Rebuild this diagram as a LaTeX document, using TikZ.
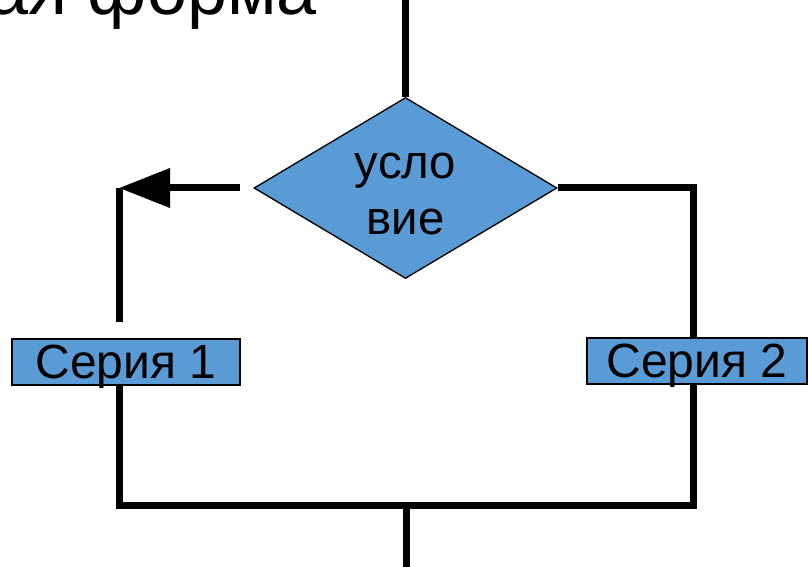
\documentclass[tikz,border=0pt]{standalone}
\usepackage{fontspec}
\setmainfont{Liberation Sans}
\usetikzlibrary{shapes.geometric,arrows.meta,calc}
\definecolor{boxblue}{RGB}{91,155,213}
\begin{document}
\begin{tikzpicture}[x=0.75pt,y=-0.75pt,
  conn/.style={line width=5.25pt},
  serbox/.style={draw=black, line width=1pt, fill=boxblue, inner sep=0pt, text depth=0pt, font=\fontsize{36}{43}\selectfont},
]
\useasboundingbox (0,0) rectangle (808,567);
\node[anchor=base east, inner sep=0pt, font=\fontsize{54}{60}\selectfont] (title) at (317,15) {ая форма};
\node[diamond, draw=black, line width=1pt, fill=boxblue, minimum width=227.25pt, minimum height=135.75pt, inner sep=0pt] (dia) at (405.5,188) {};
\node[align=center, inner sep=0pt, font=\fontsize{35.5}{42.5}\selectfont] (cond) at (405.5,194) {усло\\вие};
\node[serbox, minimum width=171pt, minimum height=34.5pt] (s1) at (126,362) {Серия 1};
\node[serbox, minimum width=165pt, minimum height=34.5pt] (s2) at (697,361) {Серия 2};
\coordinate (top) at (405.5,0);
\coordinate (bot) at (406.5,567);
\coordinate (lt) at (119,188);
\coordinate (la) at (240,188);
\coordinate (lb) at (119,505.5);
\coordinate (rt) at (693.5,188);
\coordinate (rb) at (693.5,505.5);
\coordinate (mb) at (406.5,505.5);
\draw[conn] (top) -- (dia.north);
\draw[conn, -{Triangle[length=38.25pt,width=28.5pt]}] (la) -- (lt);
\draw[conn] (lt) -- ($(s1.north -| lt)+(0,-16)$);
\draw[conn] (s1.south -| lt) -- (lb) -- (rb) -- (s2.south -| rt);
\draw[conn] (dia.east) -- (rt) -- (s2.north -| rt);
\draw[conn] (mb) -- (bot);
\end{tikzpicture}
\end{document}
